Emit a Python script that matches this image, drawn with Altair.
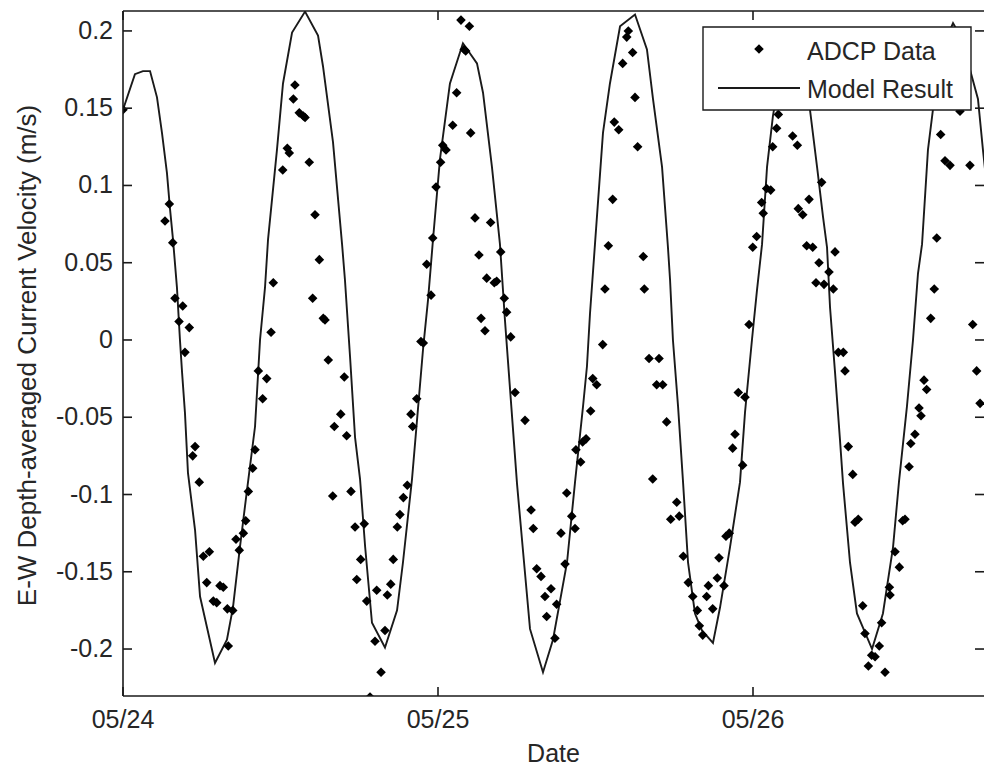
import altair as alt
import pandas as pd

# ---------------- data (hours after 05/24 00:00, velocity m/s) ----------------
adcp_hours = [0.00, 3.20, 3.53, 3.79, 3.96, 4.27, 4.55, 4.72, 5.05, 5.31, 5.49, 5.81,
              6.12, 6.38, 6.58, 6.88, 7.14, 7.39, 7.64, 7.95, 8.02, 8.36, 8.61, 8.86,
              9.17, 9.35, 9.55, 9.88, 10.06, 10.31, 10.64, 10.95, 11.28, 11.45, 12.17, 12.52,
              12.67, 12.98, 13.10, 13.43, 13.74, 13.87, 14.19, 14.45, 14.63, 14.96, 15.26, 15.39,
              15.64, 15.98, 16.10, 16.59, 16.86, 17.04, 17.37, 17.68, 17.81, 18.11, 18.38, 18.57,
              18.82, 19.20, 19.33, 19.66, 19.96, 20.14, 20.40, 20.59, 20.90, 21.10, 21.36, 21.66,
              21.94, 22.07, 22.38, 22.70, 22.88, 23.14, 23.47, 23.60, 23.85, 24.20, 24.36, 24.61,
              25.12, 25.42, 25.75, 26.00, 26.11, 26.39, 26.49, 26.82, 27.12, 27.28, 27.58, 27.71,
              28.01, 28.29, 28.47, 28.78, 29.05, 29.23, 29.54, 29.87, 30.63, 31.09, 31.26, 31.52,
              31.85, 32.15, 32.28, 32.61, 32.91, 33.04, 33.37, 33.68, 33.81, 34.19, 34.44, 34.51,
              34.87, 35.02, 35.28, 35.63, 35.79, 36.09, 36.55, 36.72, 36.98, 37.31, 37.43, 37.77,
              38.07, 38.38, 38.50, 38.83, 39.01, 39.21, 39.64, 39.72, 40.08, 40.36, 40.66, 40.84,
              41.12, 41.42, 41.73, 42.19, 42.38, 42.69, 43.07, 43.41, 43.76, 43.91, 44.17, 44.47,
              44.60, 44.93, 45.28, 45.41, 45.79, 45.94, 46.19, 46.45, 46.63, 46.88, 47.21, 47.39,
              47.70, 47.98, 48.28, 48.66, 48.78, 49.04, 49.35, 49.50, 49.80, 49.93, 51.02, 51.38,
              51.45, 51.79, 52.09, 52.27, 52.55, 52.80, 53.03, 53.23, 53.41, 53.79, 54.12, 54.25,
              54.50, 54.88, 55.01, 55.26, 55.60, 55.77, 56.02, 56.36, 56.53, 56.79, 57.04, 57.30,
              57.62, 57.80, 58.06, 58.39, 58.44, 58.82, 59.15, 59.40, 59.58, 59.89, 60.02, 60.34,
              60.65, 60.80, 61.03, 61.23, 61.54, 61.81, 62.00, 62.30, 62.63, 63.01, 63.77, 64.53,
              64.74, 65.04, 65.30]
adcp_vel = [0.149, 0.077, 0.088, 0.063, 0.027, 0.012, 0.022, -0.008, 0.008, -0.075, -0.069, -0.092,
            -0.140, -0.157, -0.137, -0.169, -0.170, -0.159, -0.160, -0.174, -0.198, -0.175, -0.129, -0.136,
            -0.125, -0.117, -0.098, -0.083, -0.071, -0.020, -0.038, -0.025, 0.005, 0.037, 0.110, 0.124,
            0.121, 0.156, 0.165, 0.147, 0.145, 0.144, 0.115, 0.027, 0.081, 0.052, 0.014, 0.013,
            -0.013, -0.101, -0.056, -0.048, -0.024, -0.062, -0.098, -0.121, -0.155, -0.142, -0.119, -0.169,
            -0.231, -0.195, -0.162, -0.215, -0.188, -0.165, -0.158, -0.142, -0.121, -0.113, -0.102, -0.094,
            -0.048, -0.056, -0.038, -0.001, -0.002, 0.049, 0.029, 0.066, 0.099, 0.115, 0.126, 0.123,
            0.139, 0.160, 0.207, 0.188, 0.187, 0.203, 0.134, 0.079, 0.055, 0.014, 0.006, 0.040,
            0.076, 0.037, 0.038, 0.057, 0.027, 0.018, 0.002, -0.034, -0.052, -0.110, -0.122, -0.148,
            -0.153, -0.166, -0.179, -0.161, -0.193, -0.171, -0.125, -0.145, -0.099, -0.114, -0.122, -0.071,
            -0.079, -0.066, -0.064, -0.046, -0.025, -0.029, -0.003, 0.033, 0.061, 0.091, 0.141, 0.136,
            0.179, 0.196, 0.200, 0.186, 0.157, 0.125, 0.054, 0.033, -0.012, -0.090, -0.029, -0.012,
            -0.029, -0.053, -0.116, -0.105, -0.114, -0.140, -0.157, -0.166, -0.175, -0.185, -0.191, -0.166,
            -0.159, -0.174, -0.154, -0.141, -0.159, -0.127, -0.125, -0.070, -0.061, -0.034, -0.081, -0.037,
            0.010, 0.060, 0.067, 0.089, 0.082, 0.098, 0.097, 0.125, 0.137, 0.146, 0.132, 0.126,
            0.085, 0.081, 0.061, 0.091, 0.060, 0.037, 0.050, 0.102, 0.036, 0.044, 0.033, 0.057,
            -0.008, -0.008, -0.020, -0.069, -0.087, -0.118, -0.116, -0.172, -0.190, -0.211, -0.204, -0.205,
            -0.198, -0.183, -0.215, -0.160, -0.165, -0.137, -0.147, -0.117, -0.116, -0.082, -0.067, -0.061,
            -0.044, -0.049, -0.026, -0.032, 0.014, 0.033, 0.066, 0.133, 0.116, 0.113, 0.148, 0.113,
            0.010, -0.020, -0.041]

model_hours = [0.00, 0.91, 1.52, 2.06, 2.59, 2.97, 3.35, 3.58, 3.81, 4.11, 4.34, 4.50,
               4.72, 4.95, 5.49, 5.87, 7.01, 7.92, 8.38, 8.91, 9.45, 10.06, 10.44, 10.82,
               11.05, 11.73, 12.19, 12.88, 13.87, 14.86, 15.24, 16.00, 16.69, 16.91, 17.30, 17.68,
               18.06, 18.45, 18.97, 19.96, 20.88, 21.33, 22.02, 22.40, 22.86, 23.24, 23.62, 24.15,
               24.91, 25.90, 26.97, 27.43, 28.11, 28.72, 29.10, 29.49, 30.02, 30.45, 31.01, 32.00,
               32.76, 33.83, 34.44, 35.05, 35.35, 35.58, 35.96, 36.57, 37.10, 37.87, 39.01, 39.92,
               40.38, 41.07, 41.52, 41.68, 41.90, 42.29, 42.67, 43.05, 43.58, 44.11, 44.95, 45.49,
               46.25, 47.01, 47.39, 47.92, 48.30, 48.69, 49.07, 49.52, 50.06, 50.97, 51.81, 52.34,
               52.88, 53.33, 53.64, 53.87, 54.25, 54.63, 54.86, 55.39, 55.92, 57.07, 57.90, 58.67,
               59.12, 59.73, 60.19, 60.57, 60.88, 61.33, 61.71, 62.48, 63.24, 63.92, 64.53, 65.14,
               65.52, 66.06]
model_vel = [0.149, 0.172, 0.174, 0.174, 0.157, 0.134, 0.108, 0.085, 0.065, 0.034, 0.000, -0.021,
             -0.047, -0.086, -0.123, -0.166, -0.209, -0.194, -0.173, -0.134, -0.097, -0.056, 0.000, 0.034,
             0.065, 0.123, 0.166, 0.199, 0.2125, 0.197, 0.177, 0.128, 0.062, 0.039, -0.011, -0.063,
             -0.090, -0.134, -0.183, -0.199, -0.175, -0.144, -0.090, -0.052, -0.006, 0.026, 0.065, 0.117,
             0.166, 0.192, 0.179, 0.160, 0.112, 0.062, 0.013, -0.032, -0.093, -0.134, -0.187, -0.215,
             -0.194, -0.144, -0.092, -0.043, -0.017, 0.017, 0.062, 0.134, 0.166, 0.203, 0.2106, 0.188,
             0.156, 0.112, 0.060, 0.039, 0.000, -0.043, -0.092, -0.144, -0.177, -0.188, -0.196, -0.173,
             -0.134, -0.092, -0.047, 0.000, 0.032, 0.062, 0.112, 0.145, 0.172, 0.190, 0.175, 0.149,
             0.112, 0.080, 0.060, 0.021, -0.021, -0.065, -0.093, -0.144, -0.177, -0.200, -0.177, -0.134,
             -0.092, -0.043, 0.000, 0.043, 0.062, 0.123, 0.149, 0.190, 0.205, 0.195, 0.175, 0.156,
             0.123, 0.080]

x_tick_hours = [0, 24, 48]
x_tick_labels = ["05/24", "05/25", "05/26"]
y_ticks = [-0.2, -0.15, -0.1, -0.05, 0, 0.05, 0.1, 0.15, 0.2]
y_tick_labels = ["-0.2", "-0.15", "-0.1", "-0.05", "0", "0.05", "0.1", "0.15", "0.2"]
legend_labels = ["ADCP Data", "Model Result"]
x_title = "Date"
y_title = "E-W Depth-averaged Current Velocity (m/s)"
x_domain = [0, 65.6]
y_domain = [-0.2304, 0.2129]

# ---------------- styling ----------------
W, H = 861, 685
FONT = "Liberation Sans"
FS = 25
TXT = "#262626"
LINE = "#1a1a1a"
TICK = 9
PT_SIZE = 92

adcp = pd.DataFrame({"t": adcp_hours, "v": adcp_vel})
model = pd.DataFrame({"t": model_hours, "v": model_vel})
xt = pd.DataFrame({"t": x_tick_hours, "label": x_tick_labels})
yt = pd.DataFrame({"v": y_ticks, "label": y_tick_labels})
one = pd.DataFrame({"a": [0]})

xs = alt.Scale(domain=x_domain, nice=False, zero=False)
ys = alt.Scale(domain=y_domain, nice=False, zero=False)

X = lambda f: alt.X(f, scale=xs, axis=None)
Y = lambda f: alt.Y(f, scale=ys, axis=None)

line = alt.Chart(model).mark_line(color=LINE, strokeWidth=1.9, clip=True).encode(
    x=X("t:Q"), y=Y("v:Q"))
pts = alt.Chart(adcp).mark_point(shape="diamond", filled=True, size=PT_SIZE, color="black",
                                 opacity=1, clip=True).encode(x=X("t:Q"), y=Y("v:Q"))

# frame (top, left, bottom) and inward ticks
rule = dict(color=LINE, strokeWidth=1.6)
top_border = alt.Chart(one).mark_rule(**rule).encode(
    x=alt.value(0), x2=alt.value(W), y=alt.value(0))
left_border = alt.Chart(one).mark_rule(**rule).encode(
    x=alt.value(0), y=alt.value(0), y2=alt.value(H))
bottom_border = alt.Chart(one).mark_rule(**rule).encode(
    x=alt.value(0), x2=alt.value(W), y=alt.value(H))
yt_left = alt.Chart(yt).mark_rule(**rule).encode(
    y=Y("v:Q"), x=alt.value(0), x2=alt.value(TICK))
yt_right = alt.Chart(yt).mark_rule(**rule).encode(
    y=Y("v:Q"), x=alt.value(W - TICK), x2=alt.value(W))
xt_bottom = alt.Chart(xt).mark_rule(**rule).encode(
    x=X("t:Q"), y=alt.value(H - TICK), y2=alt.value(H))
xt_top = alt.Chart(xt).mark_rule(**rule).encode(
    x=X("t:Q"), y=alt.value(0), y2=alt.value(TICK))

# tick labels and axis titles
txt = dict(font=FONT, fontSize=FS, color=TXT)
y_labels = alt.Chart(yt).mark_text(align="right", baseline="middle", **txt).encode(
    y=Y("v:Q"), x=alt.value(-10), text="label:N")
x_labels = alt.Chart(xt).mark_text(align="center", baseline="alphabetic", **txt).encode(
    x=X("t:Q"), y=alt.value(H + 32), text="label:N")
x_tit = alt.Chart(pd.DataFrame({"label": [x_title]})).mark_text(
    align="center", baseline="alphabetic", **txt).encode(
    x=alt.value(W / 2), y=alt.value(H + 66), text="label:N")
y_tit = alt.Chart(pd.DataFrame({"label": [y_title]})).mark_text(
    align="center", baseline="alphabetic", angle=270, font=FONT, fontSize=26, color=TXT).encode(
    x=alt.value(-87), y=alt.value(H / 2 + 2), text="label:N")

# legend box
leg_box = alt.Chart(one).mark_rect(fill="white", stroke=LINE, strokeWidth=1.4).encode(
    x=alt.value(580), x2=alt.value(848), y=alt.value(16), y2=alt.value(99))
leg_pt = alt.Chart(one).mark_point(shape="diamond", filled=True, size=PT_SIZE, color="black",
                                   opacity=1).encode(x=alt.value(636), y=alt.value(38))
leg_line = alt.Chart(one).mark_rule(color=LINE, strokeWidth=1.9).encode(
    x=alt.value(595), x2=alt.value(677), y=alt.value(77))
leg_txt = []
for lab, yb in zip(legend_labels, [49, 86.7]):
    leg_txt.append(
        alt.Chart(pd.DataFrame({"label": [lab]})).mark_text(
            align="left", baseline="alphabetic", **txt
        ).encode(x=alt.value(684), y=alt.value(yb), text="label:N")
    )

chart = alt.layer(
    line, pts, top_border, left_border, bottom_border, yt_left, yt_right, xt_bottom, xt_top,
    y_labels, x_labels, x_tit, y_tit,
    leg_box, leg_pt, leg_line, *leg_txt
).properties(
    width=W, height=H,
    autosize=alt.AutoSizeParams(type="none"),
    padding={"left": 123, "top": 11, "right": 0, "bottom": 71},
    background="white",
).configure_view(stroke=None)

chart.save("out.html", embed_options={"renderer": "svg", "actions": False})
